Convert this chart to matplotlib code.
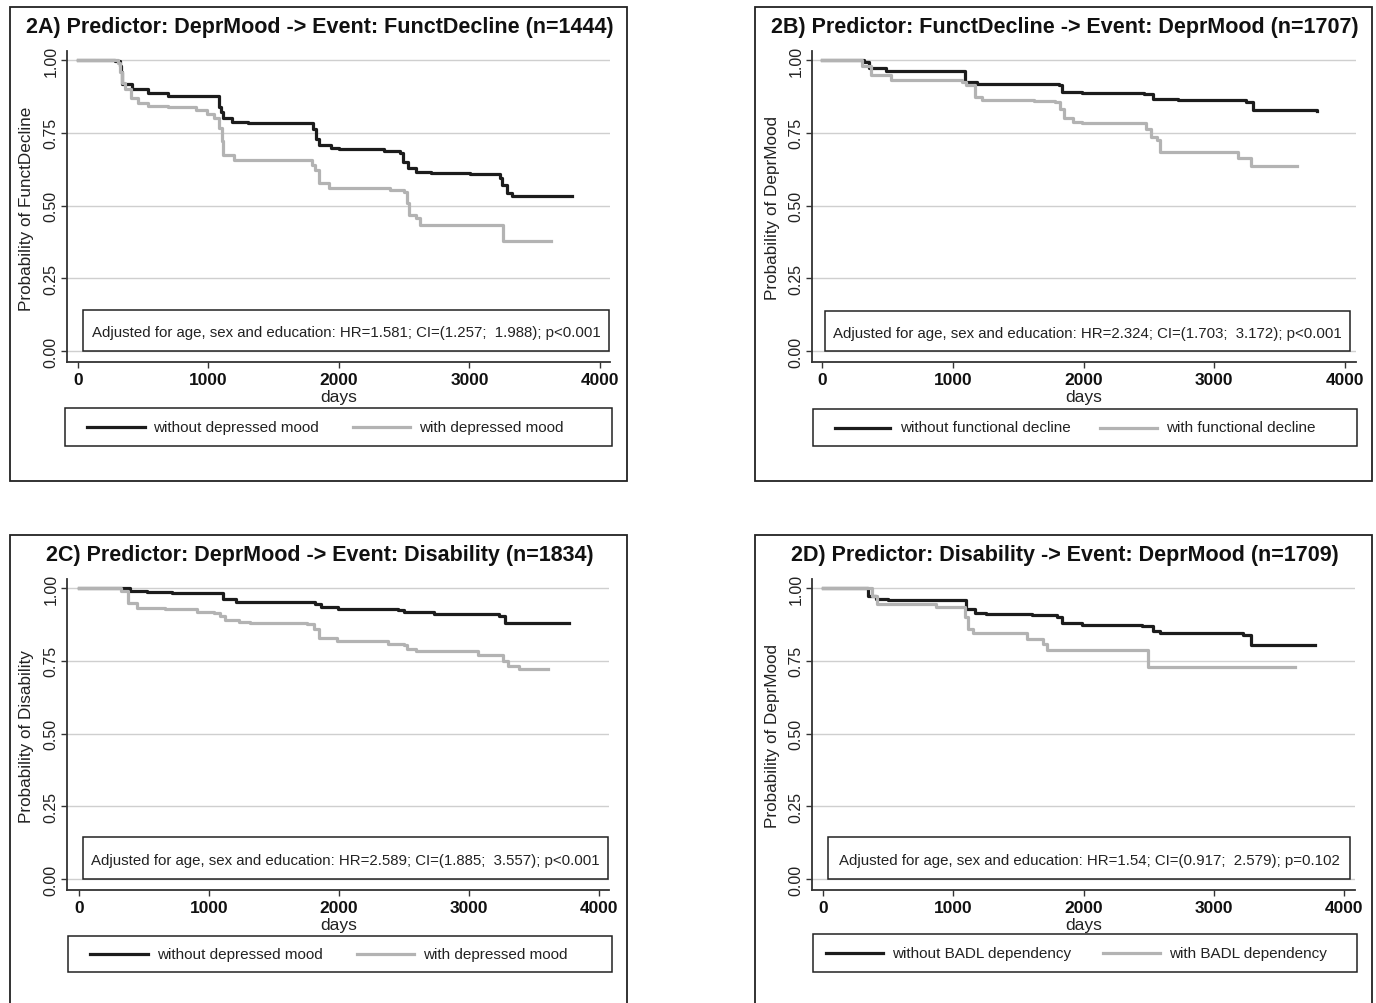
import matplotlib
matplotlib.use("Agg")
import matplotlib.pyplot as plt
from matplotlib.patches import Rectangle
from matplotlib.lines import Line2D

# ---------------- data ----------------
titles = [
    "2A) Predictor: DeprMood -> Event: FunctDecline (n=1444)",
    "2B) Predictor: FunctDecline -> Event: DeprMood (n=1707)",
    "2C) Predictor: DeprMood -> Event: Disability (n=1834)",
    "2D) Predictor: Disability -> Event: DeprMood (n=1709)",
]
ylabels = ["Probability of FunctDecline", "Probability of DeprMood",
           "Probability of Disability", "Probability of DeprMood"]
annotations = [
    "Adjusted for age, sex and education: HR=1.581; CI=(1.257;  1.988); p<0.001",
    "Adjusted for age, sex and education: HR=2.324; CI=(1.703;  3.172); p<0.001",
    "Adjusted for age, sex and education: HR=2.589; CI=(1.885;  3.557); p<0.001",
    "Adjusted for age, sex and education: HR=1.54; CI=(0.917;  2.579); p=0.102",
]
legend_labels = [
    ("without depressed mood", "with depressed mood"),
    ("without functional decline", "with functional decline"),
    ("without depressed mood", "with depressed mood"),
    ("without BADL dependency", "with BADL dependency"),
]
xticks = [0, 1000, 2000, 3000, 4000]
yticks = [0.00, 0.25, 0.50, 0.75, 1.00]
ytick_labels = ["0.00", "0.25", "0.50", "0.75", "1.00"]

# Panel A
a_black_t = [0, 280, 320, 330, 340, 416, 539, 688, 1080, 1095, 1110, 1178, 1300, 1695, 1804, 1820, 1845, 1940, 2000,
             2348, 2471, 2490, 2525, 2593, 2702, 3001, 3233, 3250, 3287, 3328, 3500, 3782]
a_black_s = [1.00, 0.995, 0.98, 0.96, 0.919, 0.902, 0.885, 0.877, 0.84, 0.82, 0.80, 0.788, 0.785, 0.782, 0.763, 0.73,
             0.708, 0.696, 0.694, 0.687, 0.679, 0.65, 0.628, 0.616, 0.611, 0.608, 0.594, 0.57, 0.542, 0.533, 0.531,
             0.531]
a_grey_t = [0, 307, 320, 340, 362, 403, 457, 539, 688, 906, 988, 1042, 1083, 1100, 1110, 1192, 1790, 1818,
            1845, 1926, 2389, 2498, 2520, 2539, 2593, 2620, 3260, 3622]
a_grey_s = [1.00, 0.99, 0.96, 0.92, 0.902, 0.868, 0.853, 0.841, 0.837, 0.828, 0.816, 0.80, 0.765, 0.72, 0.674,
            0.655, 0.64, 0.622, 0.576, 0.559, 0.554, 0.548, 0.51, 0.468, 0.457, 0.434, 0.377, 0.377]

# Panel B
b_black_t = [0, 267, 322, 360, 486, 1092, 1182, 1605, 1809, 1836, 1986, 2464, 2532, 2723, 3105, 3242, 3296, 3787]
b_black_s = [1.00, 1.00, 0.993, 0.973, 0.963, 0.925, 0.917, 0.916, 0.913, 0.89, 0.885, 0.882, 0.865, 0.862,
             0.861, 0.856, 0.828, 0.826]
b_grey_t = [0, 254, 308, 376, 527, 1072, 1100, 1169, 1223, 1618, 1782, 1823, 1850, 1918, 1986, 2477, 2518,
            2559, 2586, 3180, 3282, 3632]
b_grey_s = [1.00, 1.00, 0.981, 0.947, 0.930, 0.925, 0.913, 0.873, 0.861, 0.858, 0.854, 0.833, 0.799, 0.788,
            0.782, 0.763, 0.734, 0.725, 0.685, 0.664, 0.635, 0.635]

# Panel C
c_black_t = [0, 308, 389, 525, 716, 1110, 1205, 1777, 1818, 1858, 1994, 2457, 2498, 2729, 3001, 3233, 3274, 3769]
c_black_s = [1.00, 1.00, 0.990, 0.986, 0.984, 0.963, 0.952, 0.951, 0.946, 0.934, 0.929, 0.925, 0.918, 0.912,
             0.910, 0.904, 0.881, 0.879]
c_grey_t = [0, 280, 321, 376, 443, 661, 906, 1042, 1083, 1124, 1233, 1315, 1750, 1804, 1845, 1981, 2375, 2498,
            2525, 2593, 3070, 3220, 3261, 3301, 3382, 3606]
c_grey_s = [1.00, 1.00, 0.990, 0.950, 0.931, 0.927, 0.919, 0.915, 0.904, 0.890, 0.884, 0.879, 0.875, 0.858,
            0.829, 0.818, 0.807, 0.805, 0.789, 0.785, 0.771, 0.769, 0.750, 0.732, 0.721, 0.721]

# Panel D
d_black_t = [0, 322, 349, 404, 499, 1100, 1168, 1250, 1605, 1796, 1836, 1986, 2450, 2532, 2587, 3091, 3228, 3283, 3774]
d_black_s = [1.00, 1.00, 0.973, 0.963, 0.959, 0.929, 0.915, 0.910, 0.906, 0.900, 0.881, 0.873, 0.870, 0.852,
             0.847, 0.844, 0.840, 0.804, 0.803]
d_grey_t = [0, 336, 376, 418, 868, 1090, 1113, 1154, 1563, 1686, 1719, 2499, 3623]
d_grey_s = [1.00, 1.00, 0.973, 0.946, 0.933, 0.90, 0.858, 0.847, 0.824, 0.807, 0.786, 0.729, 0.729]

series = [
    ((a_black_t, a_black_s), (a_grey_t, a_grey_s)),
    ((b_black_t, b_black_s), (b_grey_t, b_grey_s)),
    ((c_black_t, c_black_s), (c_grey_t, c_grey_s)),
    ((d_black_t, d_black_s), (d_grey_t, d_grey_s)),
]

# ---------------- layout (pixels) ----------------
W, H = 1376, 1004
FONT = ["Liberation Sans", "DejaVu Sans"]
plt.rcParams["font.family"] = FONT

BLACK = "#1c1c1c"
GREY = "#b3b3b3"

panels = [
    dict(outer=(10, 627, 8, 482), ax=(67, 610, 52, 363), x0=78, x4=600, y1=61, y0=352,
         ty=28, ylx=27, ann=(83, 609, 311, 352), leg=(65, 612, 409, 447), dy=398,
         lx=(87, 145, 153, 353, 410, 419)),
    dict(outer=(755, 1372, 8, 482), ax=(812, 1356, 52, 363), x0=822, x4=1345, y1=61, y0=352,
         ty=28, ylx=772, ann=(825, 1350, 312, 352), leg=(813, 1357, 410, 447), dy=398,
         lx=(835, 890, 900, 1100, 1157, 1166)),
    dict(outer=(10, 627, 536, 1010), ax=(67, 609, 580, 891), x0=79, x4=599, y1=589, y0=880,
         ty=556, ylx=27, ann=(83, 608, 838, 880), leg=(68, 612, 937, 973), dy=926,
         lx=(90, 148, 157, 357, 414, 423)),
    dict(outer=(755, 1372, 536, 1010), ax=(812, 1355, 580, 891), x0=823, x4=1344, y1=589, y0=880,
         ty=556, ylx=772, ann=(828, 1350, 838, 880), leg=(813, 1357, 935, 973), dy=926,
         lx=(826, 883, 892, 1103, 1160, 1169)),
]


def fxp(px):
    return px / W


def fyp(py):
    return 1 - py / H


fig = plt.figure(figsize=(W / 100, H / 100), dpi=100)
fig.patch.set_facecolor("white")

for i, p in enumerate(panels):
    ol, orr, ot, ob = p["outer"]
    fig.add_artist(Rectangle((fxp(ol), fyp(ob)), fxp(orr) - fxp(ol), fyp(ot) - fyp(ob),
                             transform=fig.transFigure, fill=False, edgecolor="#222222", lw=1.3))

    al, ar, at, ab = p["ax"]
    ax = fig.add_axes([fxp(al), fyp(ab), fxp(ar) - fxp(al), fyp(at) - fyp(ab)])
    xs = (p["x4"] - p["x0"]) / 4000.0
    ys = (p["y0"] - p["y1"]) / 1.0
    ax.set_xlim(-(p["x0"] - al) / xs, 4000 + (ar - p["x4"]) / xs)
    ax.set_ylim(-(ab - p["y0"]) / ys, 1 + (p["y1"] - at) / ys)

    for sp in ("top", "right"):
        ax.spines[sp].set_visible(False)
    for sp in ("left", "bottom"):
        ax.spines[sp].set_color("#333333")
        ax.spines[sp].set_linewidth(1.3)

    ax.set_yticks(yticks)
    ax.set_yticklabels(ytick_labels, rotation=90, va="center", fontsize=11.5, color="#222222")
    ax.set_xticks(xticks)
    ax.set_xticklabels([str(t) for t in xticks], fontsize=12.5, fontweight="bold", color="#111111")
    ax.tick_params(axis="both", direction="out", length=4, width=1, color="#333333")
    ax.tick_params(axis="x", pad=3)
    ax.tick_params(axis="y", pad=2)
    ax.grid(axis="y", color="#cfcfcf", lw=1.0)
    ax.set_axisbelow(True)

    (bt, bs), (gt, gs) = series[i]
    ax.plot(bt, bs, drawstyle="steps-post", color=BLACK, lw=2.3)
    ax.plot(gt, gs, drawstyle="steps-post", color=GREY, lw=2.3)

    fig.text(fxp((ol + orr) / 2 + 1), fyp(p["ty"]), titles[i], ha="center", va="center",
             fontsize=15.5, fontweight="bold", color="#111111")
    fig.text(fxp(p["ylx"]), fyp((p["y1"] + p["y0"]) / 2 + 2), ylabels[i], rotation=90,
             ha="center", va="center", fontsize=12.3, color="#222222")
    fig.text(fxp((p["x0"] + p["x4"]) / 2), fyp(p["dy"]), "days", ha="center", va="center",
             fontsize=12.5, color="#222222")

    nl, nr, nt, nb = p["ann"]
    fig.add_artist(Rectangle((fxp(nl), fyp(nb)), fxp(nr) - fxp(nl), fyp(nt) - fyp(nb),
                             transform=fig.transFigure, fill=True, facecolor="white",
                             edgecolor="#222222", lw=1.1, zorder=5))
    fig.text(fxp((nl + nr) / 2), fyp((nt + nb) / 2 + 2), annotations[i], ha="center", va="center",
             fontsize=10.8, color="#222222", zorder=6)

    gl, gr, gtp, gb = p["leg"]
    fig.add_artist(Rectangle((fxp(gl), fyp(gb)), fxp(gr) - fxp(gl), fyp(gtp) - fyp(gb),
                             transform=fig.transFigure, fill=False, edgecolor="#222222", lw=1.1))
    ym = (gtp + gb) / 2
    s1a, s1b, t1, s2a, s2b, t2 = p["lx"]
    fig.add_artist(Line2D([fxp(s1a), fxp(s1b)], [fyp(ym), fyp(ym)], transform=fig.transFigure,
                          color=BLACK, lw=2.3))
    fig.add_artist(Line2D([fxp(s2a), fxp(s2b)], [fyp(ym), fyp(ym)], transform=fig.transFigure,
                          color=GREY, lw=2.3))
    fig.text(fxp(t1), fyp(ym), legend_labels[i][0], ha="left", va="center", fontsize=11,
             color="#222222")
    fig.text(fxp(t2), fyp(ym), legend_labels[i][1], ha="left", va="center", fontsize=11,
             color="#222222")

fig.savefig("out.png", dpi=100, facecolor="white")
